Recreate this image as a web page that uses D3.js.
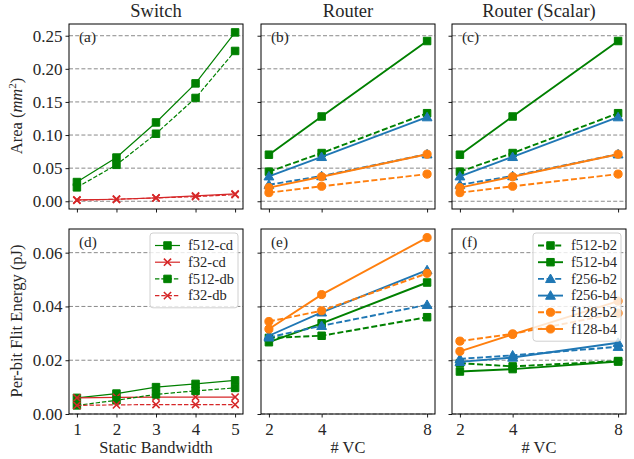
<!DOCTYPE html>
<html><head><meta charset="utf-8">
<script src="https://cdn.jsdelivr.net/npm/d3@7"></script>
<style>body{margin:0;background:#fff}svg{display:block;font-family:"Liberation Serif",serif}svg text{font-family:"Liberation Serif",serif !important;fill:#262626}</style>
</head><body><svg id="c" width="634" height="459" font-family="Liberation Serif"></svg>
<script>
// ---------- data ----------
const switchBW = [1, 2, 3, 4, 5];
const vcCounts = [2, 4, 8];
const areaTicks = [0, 0.05, 0.10, 0.15, 0.20, 0.25];
const energyTicks = [0, 0.02, 0.04, 0.06];
const panelTitles = ["Switch", "Router", "Router (Scalar)"];
const panelLetters = ["(a)", "(b)", "(c)", "(d)", "(e)", "(f)"];

// (a) switch area
const swArea_f512cd = [0.029, 0.066, 0.119, 0.178, 0.255];
const swArea_f32cd  = [0.002, 0.003, 0.005, 0.008, 0.011];
const swArea_f512db = [0.021, 0.055, 0.102, 0.156, 0.227];
const swArea_f32db  = [0.0015, 0.003, 0.005, 0.007, 0.010];
// (d) switch energy
const swEnergy_f512cd = [0.0060, 0.0076, 0.0100, 0.0112, 0.0125];
const swEnergy_f32cd  = [0.0060, 0.0062, 0.0063, 0.0063, 0.0063];
const swEnergy_f512db = [0.0032, 0.0051, 0.0073, 0.0086, 0.0097];
const swEnergy_f32db  = [0.0032, 0.0034, 0.0035, 0.0035, 0.0035];
// (b) router area
const rtArea_f512b2 = [0.0447, 0.0728, 0.133];
const rtArea_f512b4 = [0.0703, 0.128, 0.242];
const rtArea_f256b2 = [0.025, 0.038, 0.071];
const rtArea_f256b4 = [0.0377, 0.067, 0.127];
const rtArea_f128b2 = [0.013, 0.0226, 0.041];
const rtArea_f128b4 = [0.0206, 0.037, 0.071];
// (c) scalar router area
const scArea_f512b2 = [0.0447, 0.0728, 0.133];
const scArea_f512b4 = [0.0703, 0.128, 0.242];
const scArea_f256b2 = [0.025, 0.038, 0.071];
const scArea_f256b4 = [0.0377, 0.067, 0.127];
const scArea_f128b2 = [0.013, 0.0226, 0.041];
const scArea_f128b4 = [0.0206, 0.037, 0.071];
// (e) router energy
const rtEnergy_f512b2 = [0.0283, 0.0291, 0.0360];
const rtEnergy_f512b4 = [0.0267, 0.0337, 0.0489];
const rtEnergy_f256b2 = [0.0285, 0.0328, 0.0406];
const rtEnergy_f256b4 = [0.0291, 0.0378, 0.0535];
const rtEnergy_f128b2 = [0.0344, 0.0384, 0.0523];
const rtEnergy_f128b4 = [0.0316, 0.0444, 0.0656];
// (f) scalar router energy
const scEnergy_f512b2 = [0.0189, 0.0177, 0.0197];
const scEnergy_f512b4 = [0.0158, 0.0167, 0.0195];
const scEnergy_f256b2 = [0.0205, 0.0218, 0.0250];
const scEnergy_f256b4 = [0.0194, 0.0210, 0.0265];
const scEnergy_f128b2 = [0.0271, 0.0298, 0.0375];
const scEnergy_f128b4 = [0.0233, 0.0296, 0.0420];

const GREEN = "#008000", RED = "#d62728", BLUE = "#1f77b4", ORANGE = "#ff7f0e";
const FONT = '"Liberation Serif", serif';

const swSeries = (v) => [
  {name: "f512-cd", y: v[0], color: GREEN, marker: "square", dash: false},
  {name: "f32-cd",  y: v[1], color: RED,   marker: "x",      dash: false},
  {name: "f512-db", y: v[2], color: GREEN, marker: "square", dash: true},
  {name: "f32-db",  y: v[3], color: RED,   marker: "x",      dash: true}
];
const rtSeries = (v) => [
  {name: "f512-b2", y: v[0], color: GREEN,  marker: "square",   dash: true},
  {name: "f512-b4", y: v[1], color: GREEN,  marker: "square",   dash: false},
  {name: "f256-b2", y: v[2], color: BLUE,   marker: "triangle", dash: true},
  {name: "f256-b4", y: v[3], color: BLUE,   marker: "triangle", dash: false},
  {name: "f128-b2", y: v[4], color: ORANGE, marker: "circle",   dash: true},
  {name: "f128-b4", y: v[5], color: ORANGE, marker: "circle",   dash: false}
];

const svg = d3.select("#c");
const colsX = [[69, 243], [261, 435], [452, 626]];
const rowsY = [[24, 209], [229, 414]];

const panels = [
  {col: 0, row: 0, x: switchBW, xd: [0.8, 5.2], yd: [-0.0117, 0.2677], ticks: areaTicks, series: swSeries([swArea_f512cd, swArea_f32cd, swArea_f512db, swArea_f32db]), lw: 1.2, legend: false},
  {col: 1, row: 0, x: vcCounts, xd: [1.7, 8.3], yd: [-0.0117, 0.2677], ticks: areaTicks, series: rtSeries([rtArea_f512b2, rtArea_f512b4, rtArea_f256b2, rtArea_f256b4, rtArea_f128b2, rtArea_f128b4]), lw: 1.9},
  {col: 2, row: 0, x: vcCounts, xd: [1.7, 8.3], yd: [-0.0117, 0.2677], ticks: areaTicks, series: rtSeries([scArea_f512b2, scArea_f512b4, scArea_f256b2, scArea_f256b4, scArea_f128b2, scArea_f128b4]), lw: 1.9},
  {col: 0, row: 1, x: switchBW, xd: [0.8, 5.2], yd: [0, 0.0688], ticks: energyTicks, series: swSeries([swEnergy_f512cd, swEnergy_f32cd, swEnergy_f512db, swEnergy_f32db]), lw: 1.2, legend: true},
  {col: 1, row: 1, x: vcCounts, xd: [1.7, 8.3], yd: [0, 0.0688], ticks: energyTicks, series: rtSeries([rtEnergy_f512b2, rtEnergy_f512b4, rtEnergy_f256b2, rtEnergy_f256b4, rtEnergy_f128b2, rtEnergy_f128b4]), lw: 1.9},
  {col: 2, row: 1, x: vcCounts, xd: [1.7, 8.3], yd: [0, 0.0688], ticks: energyTicks, series: rtSeries([scEnergy_f512b2, scEnergy_f512b4, scEnergy_f256b2, scEnergy_f256b4, scEnergy_f128b2, scEnergy_f128b4]), lw: 1.9, legend: true}
];

function drawMarker(g, type, cx, cy, color) {
  if (type === "x") {
    const r = 3.6;
    g.append("path").attr("d", `M${cx-r},${cy-r}L${cx+r},${cy+r}M${cx-r},${cy+r}L${cx+r},${cy-r}`)
      .attr("stroke", color).attr("stroke-width", 1.6).attr("fill", "none");
    return;
  }
  const sym = type === "square" ? d3.symbolSquare : type === "circle" ? d3.symbolCircle : d3.symbolTriangle;
  const size = type === "square" ? 56 : type === "circle" ? 52 : 42;
  g.append("path").attr("d", d3.symbol().type(sym).size(size)())
    .attr("transform", `translate(${cx},${cy + (type === "triangle" ? 0.8 : 0)})`)
    .attr("fill", color).attr("stroke", color).attr("stroke-width", 1);
}

function txt(sel, size) {
  return sel.attr("font-family", FONT).style("font-family", FONT).style("font-size", size + "px");
}

panels.forEach((p, i) => {
  const [x0, x1] = colsX[p.col], [y0, y1] = rowsY[p.row];
  const xs = d3.scaleLinear().domain(p.xd).range([x0, x1]);
  const ys = d3.scaleLinear().domain(p.yd).range([y1, y0]);
  const g = svg.append("g");
  const clipId = "clip" + i;
  svg.append("clipPath").attr("id", clipId).append("rect").attr("x", x0).attr("y", y0).attr("width", x1 - x0).attr("height", y1 - y0);

  g.append("g").selectAll("line").data(p.ticks).join("line")
    .attr("x1", x0).attr("x2", x1).attr("y1", d => ys(d)).attr("y2", d => ys(d))
    .attr("stroke", "#8a8a8a").attr("stroke-width", 1).attr("stroke-dasharray", "4,2.2");

  const plot = g.append("g").attr("clip-path", `url(#${clipId})`);
  p.series.forEach(s => {
    const line = d3.line().x((d, k) => xs(p.x[k])).y(d => ys(d));
    plot.append("path").datum(s.y).attr("d", line).attr("fill", "none")
      .attr("stroke", s.color).attr("stroke-width", p.lw)
      .attr("stroke-dasharray", s.dash ? (p.lw > 1.5 ? "6,2.6" : "4.4,1.9") : null);
    s.y.forEach((v, k) => drawMarker(plot, s.marker, xs(p.x[k]), ys(v), s.color));
  });

  const ya = d3.axisLeft(ys).tickValues(p.ticks).tickSize(3.5).tickPadding(3)
    .tickFormat(p.col === 0 ? d3.format(".2f") : () => "");
  const yg = g.append("g").attr("transform", `translate(${x0},0)`).call(ya);
  const xa = d3.axisBottom(xs).tickValues(p.x).tickSize(3.5).tickPadding(5)
    .tickFormat(p.row === 1 ? d3.format("d") : () => "");
  const xg = g.append("g").attr("transform", `translate(0,${y1})`).call(xa);
  [yg, xg].forEach(a => {
    a.attr("font-family", FONT);
    a.select(".domain").remove();
    a.selectAll("line").attr("stroke", "#000").attr("stroke-width", 0.9);
    txt(a.selectAll("text"), 17).attr("fill", "#262626");
  });
  g.append("rect").attr("x", x0).attr("y", y0).attr("width", x1 - x0).attr("height", y1 - y0)
    .attr("fill", "none").attr("stroke", "#000").attr("stroke-width", 1);

  txt(g.append("text").attr("x", x0 + 10).attr("y", y0 + 18), 15.3).text(panelLetters[i]);

  if (p.row === 0) {
    txt(g.append("text").attr("x", (x0 + x1) / 2).attr("y", 17).attr("text-anchor", "middle"), 18.5)
      .text(panelTitles[p.col]);
  } else {
    txt(g.append("text").attr("x", (x0 + x1) / 2).attr("y", 453).attr("text-anchor", "middle"), 16.4)
      .text(p.col === 0 ? "Static Bandwidth" : "# VC");
  }

  if (p.legend) {
    const n = p.series.length;
    const bw = 88, rowH = 16.7;
    const bx = x1 - 5 - bw, by = y0 + 4;
    const bh = n * rowH + 8;
    const lg = g.append("g");
    lg.append("rect").attr("x", bx).attr("y", by).attr("width", bw).attr("height", bh).attr("rx", 3)
      .attr("fill", "#fff").attr("fill-opacity", 0.8).attr("stroke", "#d0d0d0").attr("stroke-width", 1);
    p.series.forEach((s, k) => {
      const cy = by + 12.5 + k * rowH;
      const lx0 = bx + 5, lx1 = bx + 30;
      lg.append("line").attr("x1", lx0).attr("x2", lx1).attr("y1", cy).attr("y2", cy)
        .attr("stroke", s.color).attr("stroke-width", p.lw)
        .attr("stroke-dasharray", s.dash ? (p.lw > 1.5 ? "6,2.6" : "4.4,1.9") : null);
      drawMarker(lg, s.marker, (lx0 + lx1) / 2, cy, s.color);
      txt(lg.append("text").attr("x", bx + 38).attr("y", cy).attr("dy", "0.33em"), 14.5).text(s.name);
    });
  }
});

txt(svg.append("text").attr("transform", "translate(22,116) rotate(-90)").attr("text-anchor", "middle"), 16.5)
  .html('Area (<tspan font-style="italic">mm</tspan><tspan dy="-6" font-size="11px">2</tspan><tspan dy="6">)</tspan>');
txt(svg.append("text").attr("transform", "translate(22,321) rotate(-90)").attr("text-anchor", "middle"), 16.5)
  .text("Per-bit Flit Energy (pJ)");
</script></body></html>
